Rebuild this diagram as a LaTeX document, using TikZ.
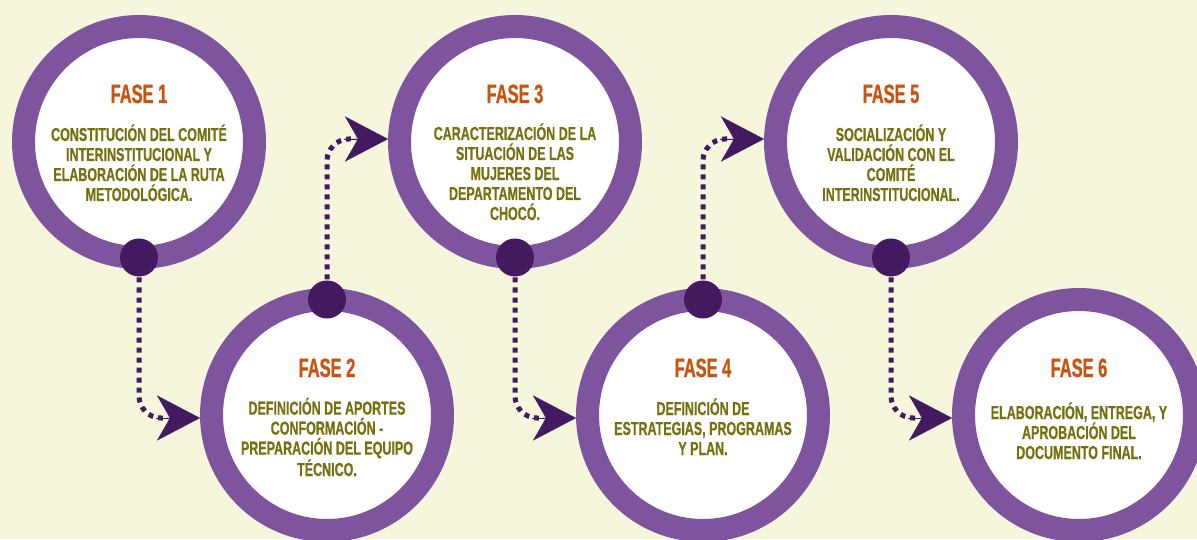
\documentclass[tikz,border=0pt]{standalone}
\usepackage{fontspec}
\newfontfamily\titlefont[FakeStretch=0.62, BoldFeatures={FakeBold=0.8}]{Liberation Sans}
\newfontfamily\bodyfont[FakeStretch=0.665, BoldFeatures={FakeBold=0.6}]{Liberation Sans}
\usetikzlibrary{arrows.meta}
\definecolor{bgc}{HTML}{F6F6DC}
\definecolor{ringc}{HTML}{7E549E}
\definecolor{dotc}{HTML}{431A5F}
\definecolor{ttlc}{HTML}{C9540F}
\definecolor{bodyc}{HTML}{76710F}
\tikzset{
  phase/.style={circle, draw=ringc, line width=23pt, fill=white, minimum size=231pt, inner sep=0pt, outer sep=11.5pt},
  pin/.style={circle, fill=dotc, minimum size=38pt, inner sep=0pt},
  dotline/.style={draw=dotc, line width=5pt, dash pattern=on 5pt off 5pt, rounded corners=22pt},
  tiphead/.style={-{Stealth[length=43pt,width=45pt,inset=13pt]}, draw=dotc, fill=dotc, line width=0.1pt},
  ttl/.style={font=\titlefont\bfseries\fontsize{26.5}{28}\selectfont, text=ttlc, anchor=base, inner sep=0pt},
  body/.style={font=\bodyfont\bfseries\fontsize{18.8}{20}\selectfont, text=bodyc, align=center, anchor=base, inner sep=0pt}
}
\begin{document}
\begin{tikzpicture}[x=1pt,y=1pt]
\useasboundingbox (0,0) rectangle (1197,539);
\clip (0,0) rectangle (1197,539);
\fill[bgc] (0,0) rectangle (1197,539);
% circles
\node[phase] (c1) at (139,397) {};
\node[phase] (c2) at (327,124) {};
\node[phase] (c3) at (515,397) {};
\node[phase] (c4) at (703,124) {};
\node[phase] (c5) at (891,397) {};
\node[phase] (c6) at (1079,124) {};
% pins (positions)
\coordinate (d1) at (139,281.5);
\coordinate (d2) at (327,239.5);
\coordinate (d3) at (515,281.5);
\coordinate (d4) at (703,239.5);
\coordinate (d5) at (891,281.5);
% connectors
\draw[dotline] (d1) |- ([xshift=-32pt,yshift=-3pt]c2.west);
\draw[dotline] (d2) |- ([xshift=-32pt,yshift=3pt]c3.west);
\draw[dotline] (d3) |- ([xshift=-32pt,yshift=-3pt]c4.west);
\draw[dotline] (d4) |- ([xshift=-32pt,yshift=3pt]c5.west);
\draw[dotline] (d5) |- ([xshift=-32pt,yshift=-3pt]c6.west);
\node[pin] (p1) at (d1) {};
\node[pin] (p2) at (d2) {};
\node[pin] (p3) at (d3) {};
\node[pin] (p4) at (d4) {};
\node[pin] (p5) at (d5) {};
\draw[tiphead] ([xshift=-44pt,yshift=-3pt]c2.west) -- ([yshift=-3pt]c2.west);
\draw[tiphead] ([xshift=-44pt,yshift=3pt]c3.west) -- ([yshift=3pt]c3.west);
\draw[tiphead] ([xshift=-44pt,yshift=-3pt]c4.west) -- ([yshift=-3pt]c4.west);
\draw[tiphead] ([xshift=-44pt,yshift=3pt]c5.west) -- ([yshift=3pt]c5.west);
\draw[tiphead] ([xshift=-44pt,yshift=-3pt]c6.west) -- ([yshift=-3pt]c6.west);
% titles
\node[ttl] (t1) at (139,436) {FASE 1};
\node[ttl] (t2) at (327,162) {FASE 2};
\node[ttl] (t3) at (515,436) {FASE 3};
\node[ttl] (t4) at (703,162) {FASE 4};
\node[ttl] (t5) at (891,436) {FASE 5};
\node[ttl] (t6) at (1079,162) {FASE 6};
% bodies (anchor = baseline of last line)
\node[body] (b1) at (139,338) {CONSTITUCIÓN DEL COMITÉ\\INTERINSTITUCIONAL Y\\ELABORACIÓN DE LA RUTA\\METODOLÓGICA.};
\node[body] (b2) at (327,63) {DEFINICIÓN DE APORTES\\CONFORMACIÓN -\\PREPARACIÓN DEL EQUIPO\\TÉCNICO.};
\node[body] (b3) at (515,319) {CARACTERIZACIÓN DE LA\\SITUACIÓN DE LAS\\MUJERES DEL\\DEPARTAMENTO DEL\\CHOCÓ.};
\node[body] (b4) at (703,84) {DEFINICIÓN DE\\ESTRATEGIAS, PROGRAMAS\\Y PLAN.};
\node[body] (b5) at (891,338) {SOCIALIZACIÓN Y\\VALIDACIÓN CON EL\\COMITÉ\\INTERINSTITUCIONAL.};
\node[body] (b6) at (1079,80) {ELABORACIÓN, ENTREGA, Y\\APROBACIÓN DEL\\DOCUMENTO FINAL.};
\end{tikzpicture}
\end{document}
